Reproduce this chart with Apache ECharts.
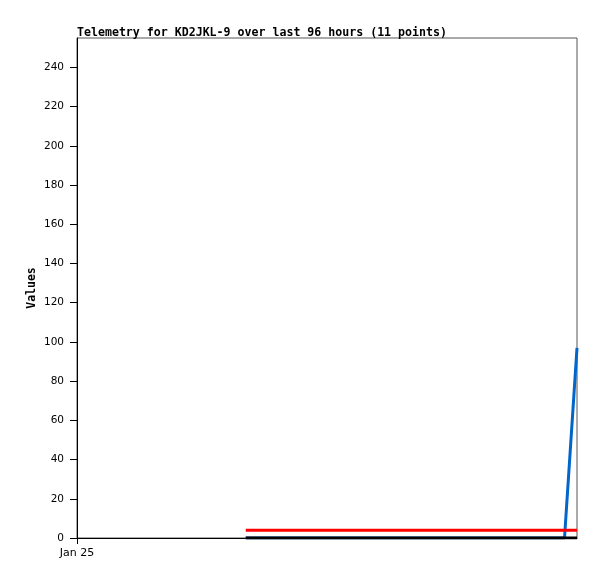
<!DOCTYPE html>
<html><head><meta charset="utf-8">
<script src="https://cdn.jsdelivr.net/npm/echarts@6/dist/echarts.min.js"></script>
<style>html,body{margin:0;padding:0;background:#fff}#c{width:597px;height:579px}</style>
</head><body><div id="c"></div>
<script>
// hours since start of axis (Jan 25 00:00)
const hours = [32.4, 38.5, 44.6, 50.8, 56.9, 63.0, 69.2, 75.3, 81.4, 93.6, 96.0];
const blueValues = [0, 0, 0, 0, 0, 0, 0, 0, 0, 0, 97];
const redValues = [4, 4, 4, 4, 4, 4, 4, 4, 4, 4, 4];
const blackValues = [0, 0, 0, 0, 0, 0, 0, 0, 0, 0, 0];
const yTicks = [0, 20, 40, 60, 80, 100, 120, 140, 160, 180, 200, 220, 240];
const xTickLabels = {0: 'Jan 25'};
const title = 'Telemetry for KD2JKL-9 over last 96 hours (11 points)';

const pair = (vals) => hours.map((h, i) => [h, vals[i]]);
const chart = echarts.init(document.getElementById('c'), null, {renderer: 'canvas'});
chart.setOption({
  animation: false,
  backgroundColor: '#fff',
  title: {text: title, left: 72, top: 22,
    textStyle: {fontFamily: 'DejaVu Sans Mono', fontWeight: 'bold', fontSize: 11.6, color: '#000'}},
  grid: {left: 77, top: 38, right: 20, bottom: 41, show: true, borderColor: '#555', borderWidth: 1},
  xAxis: {type: 'value', min: 0, max: 96, interval: 96,
    axisLine: {lineStyle: {color: '#000', width: 1}},
    axisTick: {show: true, length: 6, lineStyle: {color: '#000'}, customValues: [0]},
    axisLabel: {customValues: [0], formatter: v => xTickLabels[v] || '', color: '#000',
      fontFamily: 'DejaVu Sans', fontSize: 11, margin: 10},
    splitLine: {show: false}},
  yAxis: {type: 'value', min: 0, max: 255, interval: 20,
    name: 'Values', nameLocation: 'middle', nameGap: 39, nameRotate: 90, nameMoveOverlap: false,
    nameTextStyle: {fontFamily: 'DejaVu Sans Mono', fontWeight: 'bold', fontSize: 11.5, color: '#000'},
    axisLine: {show: true, lineStyle: {color: '#000', width: 1}},
    axisTick: {show: true, length: 7, lineStyle: {color: '#000'}, customValues: yTicks},
    axisLabel: {customValues: yTicks, color: '#000', fontFamily: 'DejaVu Sans', fontSize: 10.5, margin: 13},
    splitLine: {show: false}},
  series: [
    {type: 'line', data: pair(blueValues), symbol: 'none', lineStyle: {color: '#0066cc', width: 3}, z: 2},
    {type: 'line', data: pair(redValues), symbol: 'none', lineStyle: {color: '#ff0000', width: 3}, z: 3},
    {type: 'line', data: pair(blackValues), symbol: 'none', lineStyle: {color: '#000000', width: 3}, z: 4}
  ]
});
</script></body></html>
